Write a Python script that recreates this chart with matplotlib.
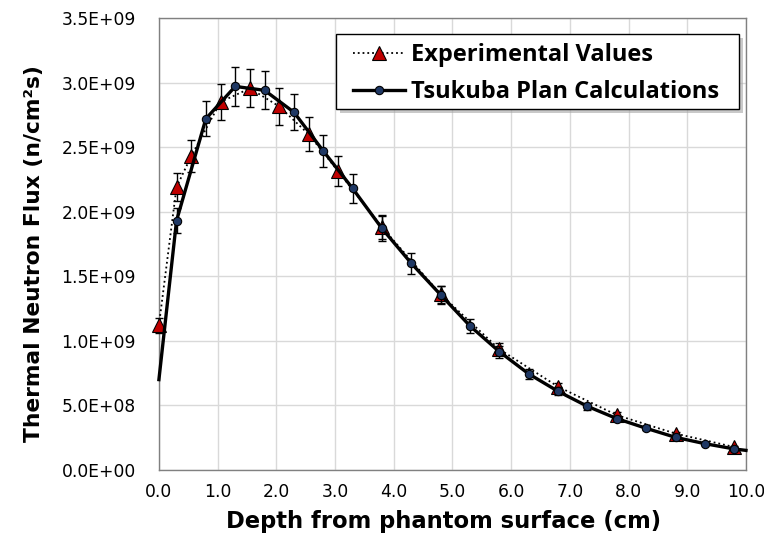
import numpy as np
import matplotlib
matplotlib.use('Agg')
import matplotlib.pyplot as plt
from matplotlib.patches import Rectangle
from matplotlib.ticker import FuncFormatter, MultipleLocator

# Experimental values (depth cm, flux n/cm2s)
x_exp = [0.0, 0.3, 0.55, 1.05, 1.55, 2.05, 2.55, 3.05, 3.8, 4.8, 5.8, 6.8, 7.8, 8.8, 9.8]
y_exp = [1.12e9, 2.19e9, 2.43e9, 2.85e9, 2.955e9, 2.815e9, 2.60e9, 2.315e9, 1.88e9,
         1.36e9, 0.935e9, 0.645e9, 0.425e9, 0.282e9, 0.178e9]

# Tsukuba Plan calculations
x_calc = [0.0, 0.3, 0.8, 1.3, 1.8, 2.3, 2.8, 3.3, 3.8, 4.3, 4.8, 5.3, 5.8, 6.3, 6.8,
          7.3, 7.8, 8.3, 8.8, 9.3, 9.8, 10.0]
y_calc = [0.70e9, 1.93e9, 2.72e9, 2.97e9, 2.94e9, 2.77e9, 2.47e9, 2.18e9, 1.87e9,
          1.60e9, 1.356e9, 1.115e9, 0.916e9, 0.744e9, 0.609e9, 0.493e9, 0.398e9,
          0.323e9, 0.253e9, 0.204e9, 0.163e9, 0.152e9]

# relative uncertainty shown as error bars
rel_err = 0.05

red = '#C00000'
navy = '#1F3864'

fig = plt.figure(figsize=(7.64, 5.45), dpi=100)
ax = fig.add_axes([0.208, 0.1376, 0.7684, 0.8294])

xe = np.array(x_exp)
ye = np.array(y_exp)
xc = np.array(x_calc)
yc = np.array(y_calc)

# experimental: dotted line + red triangles
ax.errorbar(xe, ye, yerr=ye * rel_err, fmt='none', ecolor='black', elinewidth=1,
            capsize=3, capthick=1, zorder=3, clip_on=False)
l1, = ax.plot(xe, ye, ':', color='black', linewidth=1.3, marker='^', markersize=10,
              markerfacecolor=red, markeredgecolor='black', markeredgewidth=0.8,
              label='Experimental Values', zorder=4, clip_on=False)

# calculations: solid line + navy circles (no marker on the end points)
inner = slice(1, len(xc) - 1)
ax.errorbar(xc[inner], yc[inner], yerr=yc[inner] * rel_err, fmt='none', ecolor='black',
            elinewidth=1, capsize=3, capthick=1, zorder=5)
l2, = ax.plot(xc, yc, '-', color='black', linewidth=2.4, marker='o', markersize=6,
              markerfacecolor=navy, markeredgecolor='black', markeredgewidth=0.8,
              markevery=list(range(1, len(xc) - 1)),
              label='Tsukuba Plan Calculations', zorder=6, clip_on=False)

ax.set_xlim(0, 10)
ax.set_ylim(0, 3.5e9)
ax.xaxis.set_major_locator(MultipleLocator(1.0))
ax.yaxis.set_major_locator(MultipleLocator(0.5e9))
ax.xaxis.set_major_formatter(FuncFormatter(lambda v, p: f'{v:.1f}'))
ax.yaxis.set_major_formatter(FuncFormatter(lambda v, p: f'{v:.1E}'))

ax.grid(True, color='#D9D9D9', linewidth=1)
ax.set_axisbelow(True)
for s in ax.spines.values():
    s.set_color('#808080')
    s.set_linewidth(1)
ax.tick_params(length=0, labelsize=12.3)
ax.tick_params(axis='y', pad=16.5)
ax.tick_params(axis='x', pad=9)
for lbl in ax.get_xticklabels() + ax.get_yticklabels():
    lbl.set_family('DejaVu Sans')

ax.set_xlabel('Depth from phantom surface (cm)', family='DejaVu Sans', weight='bold',
              fontsize=16.3)
ax.set_ylabel('Thermal Neutron Flux (n/cm\u00b2s)', family='DejaVu Sans', weight='bold',
              fontsize=15.7)
ax.xaxis.set_label_coords(0.4855, -0.088)
ax.yaxis.set_label_coords(-0.196, 0.478)

# legend box drawn by hand (Excel-like box with soft shadow)
bx0, by0, bw, bh = 0.3015, 0.7987, 0.6865, 0.1659
ax.add_patch(Rectangle((bx0 + 4 / 587, by0 - 4 / 452), bw, bh, transform=ax.transAxes,
                       facecolor='#A6A6A6', alpha=0.6, edgecolor='none', zorder=7))
ax.add_patch(Rectangle((bx0, by0), bw, bh, transform=ax.transAxes, facecolor='white',
                       edgecolor='black', linewidth=1, zorder=8))

leg = ax.legend(handles=[l1, l2], loc='upper left', bbox_to_anchor=(0.3305, 0.945),
                frameon=False, borderpad=0, labelspacing=0.57, handlelength=2.2,
                handletextpad=0.25, borderaxespad=0,
                prop={'family': 'Open Sans', 'weight': 'bold', 'size': 17})
leg.set_zorder(9)

fig.savefig('out.png', dpi=100)
